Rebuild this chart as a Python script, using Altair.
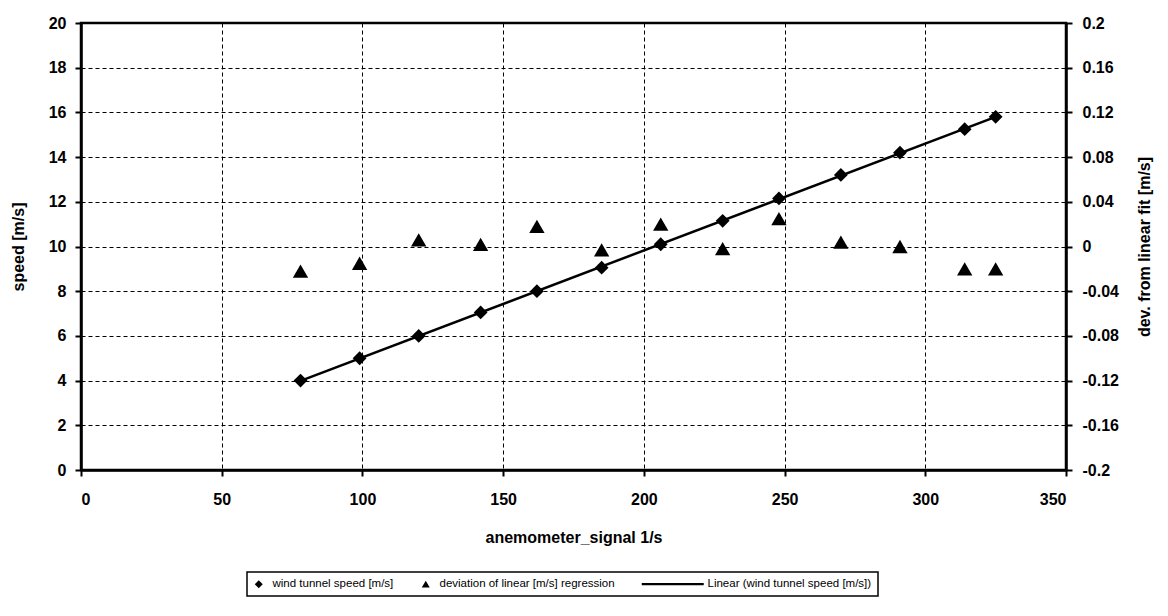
import altair as alt
import pandas as pd

# ---- data ----
signal = [78, 99, 120, 142, 162, 185, 206, 228, 248, 270, 291, 314, 325]
speed = [4.0, 5.0, 6.0, 7.05, 8.0, 9.05, 10.1, 11.15, 12.15, 13.2, 14.2, 15.25, 15.8]
deviation = [-0.022, -0.015, 0.006, 0.002, 0.018, -0.003, 0.020, -0.002, 0.025, 0.004, 0.0, -0.020, -0.020]

x_ticks = [0, 50, 100, 150, 200, 250, 300, 350]
left_ticks = [0, 2, 4, 6, 8, 10, 12, 14, 16, 18, 20]
right_ticks = [-0.2, -0.16, -0.12, -0.08, -0.04, 0, 0.04, 0.08, 0.12, 0.16, 0.2]

series_labels = [
    "wind tunnel speed [m/s]",
    "deviation of linear [m/s] regression",
    "Linear (wind tunnel speed [m/s])",
]
series_shapes = ["diamond", "triangle-up", "M-13,-0.3L2.5,-0.3L2.5,0.3L-13,0.3Z"]

df = pd.DataFrame({"signal": signal, "speed": speed, "deviation": deviation})

FONT = "Liberation Sans"

x_enc = alt.X(
    "signal:Q",
    scale=alt.Scale(domain=[0, 350], nice=False, zero=False),
    axis=alt.Axis(
        values=x_ticks,
        title="anemometer_signal 1/s",
        grid=True,
        labelPadding=15,
        titlePadding=22,
    ),
)

left_axis = alt.Axis(
    values=left_ticks,
    title="speed [m/s]",
    grid=True,
    labelPadding=9,
    titlePadding=22,
)
y_left = alt.Y("speed:Q", scale=alt.Scale(domain=[0, 20], nice=False), axis=left_axis)

shape_enc = alt.Shape(
    "series:N",
    scale=alt.Scale(domain=series_labels, range=series_shapes),
    legend=alt.Legend(
        orient="none",
        direction="horizontal",
        legendX=166,
        legendY=549,
        title=None,
        symbolFillColor="black",
        symbolStrokeColor="black",
        symbolStrokeWidth=0,
        symbolSize=64,
        labelFont=FONT,
        labelFontSize=11.5,
        labelColor="black",
        labelLimit=0,
        labelOffset=8,
        columnPadding=26,
        padding=6,
        strokeColor="black",
    ),
)

base = alt.Chart(df)

reg_line = base.transform_regression("signal", "speed").mark_line(
    color="black", strokeWidth=2.5
).encode(x=x_enc, y=y_left)

diamonds = base.transform_calculate(series="'" + series_labels[0] + "'").mark_point(
    filled=True, color="black", opacity=1, size=190
).encode(x=x_enc, y=y_left, shape=shape_enc)

left = alt.layer(reg_line, diamonds)

triangles = base.transform_calculate(series="'" + series_labels[1] + "'").mark_point(
    filled=True, color="black", opacity=1, size=235
).encode(
    x=x_enc,
    y=alt.Y(
        "deviation:Q",
        scale=alt.Scale(domain=[-0.2, 0.2], nice=False, zero=False),
        axis=alt.Axis(
            orient="right",
            values=right_ticks,
            title="dev. from linear fit [m/s]",
            titleAngle=270,
            grid=False,
            labelPadding=10,
            titlePadding=34,
            labelExpr="'' + (round(datum.value * 100) / 100)",
        ),
    ),
    shape=shape_enc,
)

chart = (
    alt.layer(left, triangles)
    .resolve_scale(y="independent")
    .properties(
        width=985,
        height=447,
        autosize=alt.AutoSizeParams(type="none"),
        padding={"left": 73, "top": 15, "right": 94, "bottom": 138},
        background="white",
    )
    .configure_view(stroke="black", strokeWidth=2.5)
    .configure_axis(
        domainColor="black",
        domainWidth=2.5,
        tickColor="black",
        tickWidth=2,
        tickSize=6,
        labelFont=FONT,
        labelFontSize=16,
        labelFontWeight="bold",
        labelColor="black",
        titleFont=FONT,
        titleFontSize=16,
        titleFontWeight="bold",
        titleColor="black",
        gridColor="black",
        gridDash=[4, 3],
        gridWidth=1,
        gridOpacity=1,
    )
    .configure_legend(strokeWidth=1.5)
)

chart.save("out.html", embed_options={"renderer": "svg", "actions": False})
